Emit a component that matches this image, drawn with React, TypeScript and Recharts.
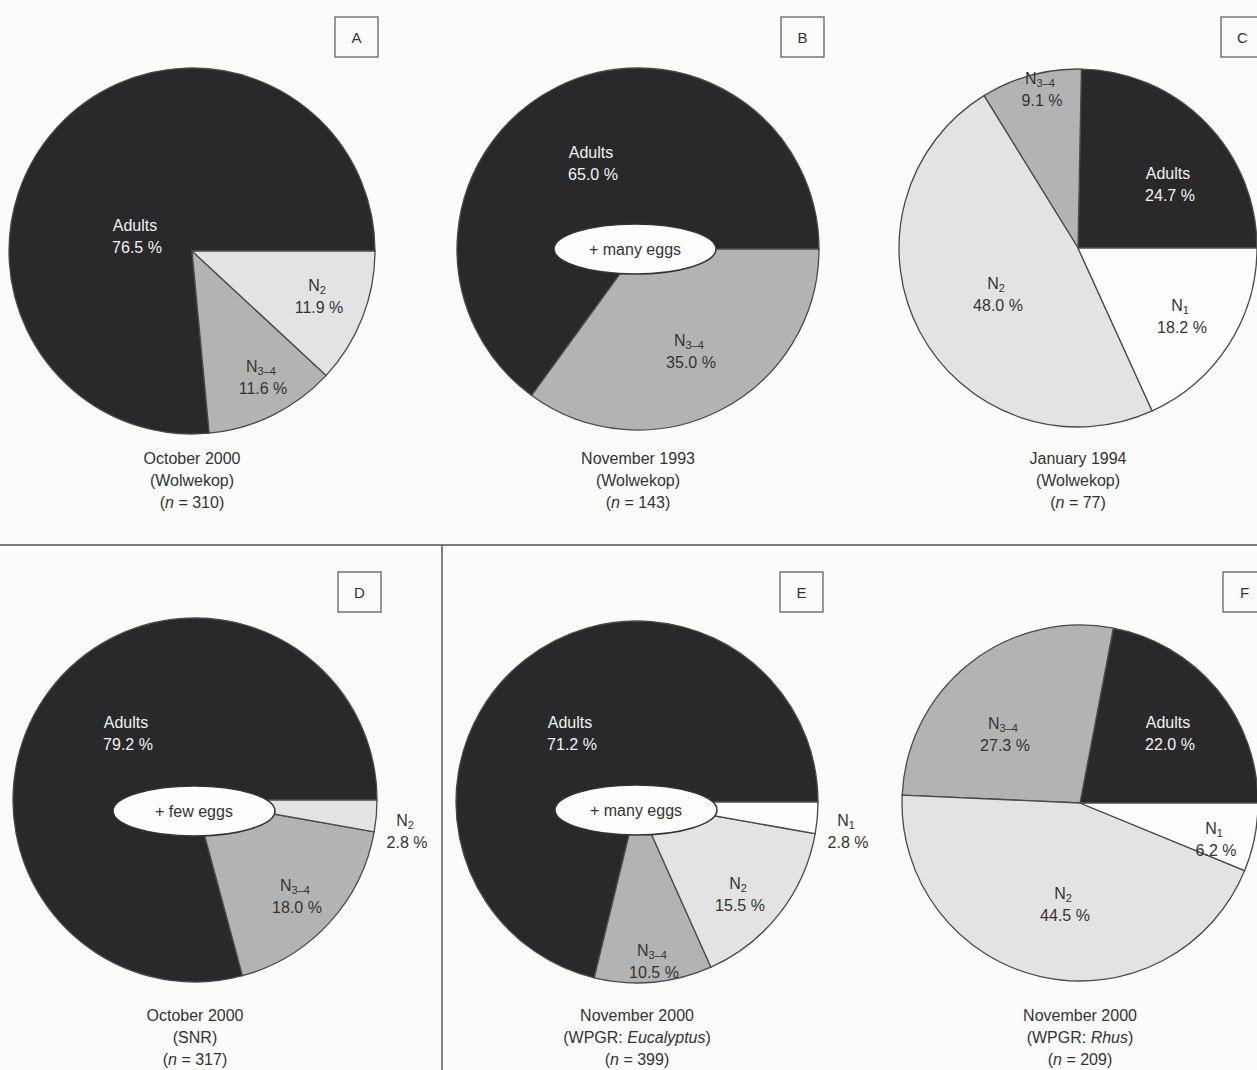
import React from "react";
import { PieChart, Pie, Cell } from "recharts";

// slices listed counter-clockwise from 3 o'clock
const catsA = ["Adults", "N3–4", "N2"];
const valsA = [76.5, 11.6, 11.9];
const catsB = ["Adults", "N3–4"];
const valsB = [65.0, 35.0];
const catsC = ["Adults", "N3–4", "N2", "N1"];
const valsC = [24.7, 9.1, 48.0, 18.2];
const catsD = ["Adults", "N3–4", "N2"];
const valsD = [79.2, 18.0, 2.8];
const catsE = ["Adults", "N3–4", "N2", "N1"];
const valsE = [71.2, 10.5, 15.5, 2.8];
const catsF = ["Adults", "N3–4", "N2", "N1"];
const valsF = [22.0, 27.3, 44.5, 6.2];

const panelLetters = ["A", "B", "C", "D", "E", "F"];
const dates = [
  "October 2000",
  "November 1993",
  "January 1994",
  "October 2000",
  "November 2000",
  "November 2000",
];
const sites = ["Wolwekop", "Wolwekop", "Wolwekop", "SNR", "WPGR: ", "WPGR: "];
const hosts = ["", "", "", "", "Eucalyptus", "Rhus"];
const sampleSizes = [310, 143, 77, 317, 399, 209];
const eggNotes = ["", "+ many eggs", "", "+ few eggs", "+ many eggs", ""];

const fills: Record<string, string> = {
  Adults: "#29292b",
  "N3–4": "#b3b3b3",
  N2: "#e3e3e3",
  N1: "#fdfdfd",
};

// layout of each pie (centre, radius) and where its labels sit
const pies = [
  { cx: 192, cy: 251, r: 183 },
  { cx: 638, cy: 249, r: 181 },
  { cx: 1078, cy: 248, r: 179 },
  { cx: 195, cy: 800, r: 182 },
  { cx: 637, cy: 802, r: 181 },
  { cx: 1080, cy: 803, r: 178 },
];
const labelOffsets: Record<string, [number, number]>[] = [
  { Adults: [-55, -26], "N3–4": [71, 115], N2: [127, 34] },
  { Adults: [-45, -97], "N3–4": [53, 91] },
  { Adults: [92, -75], "N3–4": [-36, -170], N2: [-80, 35], N1: [104, 57] },
  { Adults: [-67, -78], "N3–4": [102, 85], N2: [212, 20] },
  { Adults: [-65, -80], "N3–4": [17, 148], N2: [103, 81], N1: [211, 18] },
  { Adults: [90, -81], "N3–4": [-75, -80], N2: [-15, 90], N1: [136, 25] },
];
const eggEllipses = [null, { dx: -3, dy: 0 }, null, { dx: -1, dy: 11 }, { dx: -1, dy: 8 }, null];

const allCats = [catsA, catsB, catsC, catsD, catsE, catsF];
const allVals = [valsA, valsB, valsC, valsD, valsE, valsF];

const FONT = "'Liberation Sans', Arial, Helvetica, sans-serif";
const INK = "#333";

function StageName({ name, x, y, color }: { name: string; x: number; y: number; color: string }) {
  if (name.startsWith("N")) {
    return (
      <text x={x} y={y} textAnchor="middle" dominantBaseline="central" fill={color} fontSize={16} fontFamily={FONT}>
        <tspan>N</tspan>
        <tspan dy={5} fontSize={11}>{name.slice(1)}</tspan>
      </text>
    );
  }
  return (
    <text x={x} y={y} textAnchor="middle" dominantBaseline="central" fill={color} fontSize={16} fontFamily={FONT}>
      {name}
    </text>
  );
}

const makeLabel = (p: number) => (props: any) => {
  const { cx, cy, index } = props;
  const name = allCats[p][index];
  const value = allVals[p][index];
  const [dx, dy] = labelOffsets[p][name];
  const color = name === "Adults" ? "#f2f2f2" : INK;
  const x = cx + dx;
  const y = cy + dy;
  return (
    <g key={`lab-${p}-${index}`}>
      <StageName name={name} x={x - 2} y={y} color={color} />
      <text x={x} y={y + 22} textAnchor="middle" dominantBaseline="central" fill={color} fontSize={16} fontFamily={FONT}>
        {value.toFixed(1)} %
      </text>
    </g>
  );
};

export default function App() {
  const W = 1257;
  const H = 1070;
  return (
    <div style={{ position: "absolute", left: 0, top: 0, width: W, height: H, background: "#fbfbfa", overflow: "hidden" }}>
      <PieChart width={W} height={H} margin={{ top: 0, right: 0, bottom: 0, left: 0 }}>
        {pies.map((pl, p) => (
          <Pie
            key={p}
            data={allCats[p].map((c, i) => ({ name: c, value: allVals[p][i] }))}
            dataKey="value"
            nameKey="name"
            cx={pl.cx}
            cy={pl.cy}
            outerRadius={pl.r}
            innerRadius={0}
            startAngle={0}
            endAngle={360}
            stroke="#4a4a4a"
            strokeWidth={1.3}
            label={makeLabel(p)}
            labelLine={false}
            isAnimationActive={false}
          >
            {allCats[p].map((c, i) => (
              <Cell key={i} fill={fills[c]} />
            ))}
          </Pie>
        ))}
      </PieChart>
      <svg width={W} height={H} style={{ position: "absolute", left: 0, top: 0, pointerEvents: "none" }}>
        <line x1={0} y1={545} x2={W} y2={545} stroke="#555" strokeWidth={1.5} />
        <line x1={442} y1={545} x2={442} y2={H} stroke="#555" strokeWidth={1.5} />
        {pies.map((pl, p) => {
          const egg = eggEllipses[p];
          const top = p < 3 ? 17 : 572;
          const boxX = pl.cx + 143;
          const capY = p < 3 ? 458 : 1015;
          return (
            <g key={p} fontFamily={FONT}>
              {egg && (
                <g>
                  <ellipse cx={pl.cx + egg.dx} cy={pl.cy + egg.dy} rx={81} ry={25} fill="#fdfdfd" stroke="#333" strokeWidth={1.5} />
                  <text x={pl.cx + egg.dx} y={pl.cy + egg.dy} textAnchor="middle" dominantBaseline="central" fontSize={16} fill={INK}>
                    {eggNotes[p]}
                  </text>
                </g>
              )}
              <rect x={boxX} y={top} width={43} height={40} fill="none" stroke="#555" strokeWidth={1.2} />
              <text x={boxX + 21.5} y={top + 20} textAnchor="middle" dominantBaseline="central" fontSize={15} fill={INK}>
                {panelLetters[p]}
              </text>
              <text x={pl.cx} y={capY} textAnchor="middle" dominantBaseline="central" fontSize={16} fill={INK}>
                {dates[p]}
              </text>
              <text x={pl.cx} y={capY + 22} textAnchor="middle" dominantBaseline="central" fontSize={16} fill={INK}>
                ({sites[p]}
                {hosts[p] && <tspan fontStyle="italic">{hosts[p]}</tspan>})
              </text>
              <text x={pl.cx} y={capY + 44} textAnchor="middle" dominantBaseline="central" fontSize={16} fill={INK}>
                (<tspan fontStyle="italic">n</tspan> = {sampleSizes[p]})
              </text>
            </g>
          );
        })}
      </svg>
    </div>
  );
}
